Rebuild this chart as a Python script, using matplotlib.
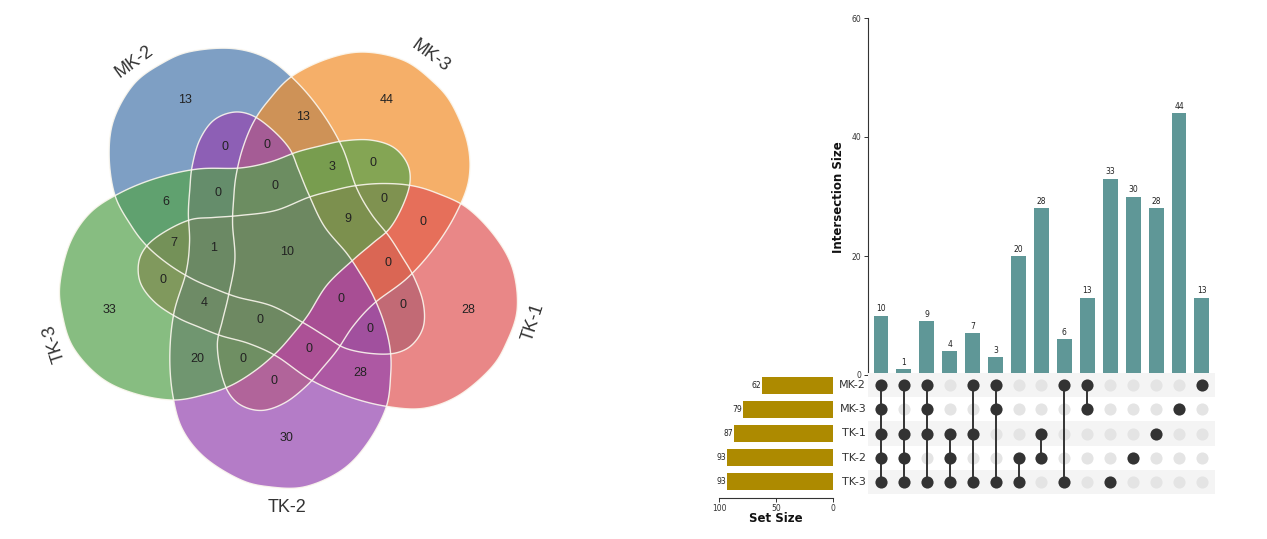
import numpy as np
import matplotlib
matplotlib.use('Agg')
from matplotlib import pyplot as plt
from matplotlib.patches import Polygon

# ---- data ----
sets = ['MK-2', 'MK-3', 'TK-1', 'TK-2', 'TK-3']
set_sizes = [62, 79, 87, 93, 93]

inter_sets = [
    ['MK-2', 'MK-3', 'TK-1', 'TK-2', 'TK-3'],
    ['MK-2', 'TK-1', 'TK-2', 'TK-3'],
    ['MK-2', 'MK-3', 'TK-1', 'TK-3'],
    ['TK-1', 'TK-2', 'TK-3'],
    ['MK-2', 'TK-1', 'TK-3'],
    ['MK-2', 'MK-3', 'TK-3'],
    ['TK-2', 'TK-3'],
    ['TK-1', 'TK-2'],
    ['MK-2', 'TK-3'],
    ['MK-2', 'MK-3'],
    ['TK-3'],
    ['TK-2'],
    ['TK-1'],
    ['MK-3'],
    ['MK-2'],
]
inter_sizes = [10, 1, 9, 4, 7, 3, 20, 28, 6, 13, 33, 30, 28, 44, 13]

W, H = 1267, 539
fig = plt.figure(figsize=(W / 100, H / 100), dpi=100)

# ---- venn (left half), axes in pixel units ----
ax_v = fig.add_axes([0, 0, 600 / W, 1])
ax_v.set_xlim(0, 600)
ax_v.set_ylim(H, 0)
ax_v.axis('off')

cx, cy = 285.0, 257.5
# outline of one set (TK-3), the other four are rotations of it
shape = [(410, 182), (407, 163), (393, 147), (370, 140), (343, 141), (320, 146),
         (297, 152), (270, 162), (240, 168), (198, 169), (157, 178), (120, 193),
         (90, 213), (70, 243), (60, 283), (62, 313), (73, 347), (100, 377),
         (133, 393), (173, 400), (207, 394), (232, 385), (256, 370), (277, 352),
         (293, 334), (308, 315), (327, 285), (353, 260), (373, 243), (390, 228),
         (403, 205)]

def smooth_closed(pts, n=16):
    P = np.asarray(pts, float)
    N = len(P)
    t = np.linspace(0, 1, n, endpoint=False)[:, None]
    out = []
    for i in range(N):
        p0, p1, p2, p3 = P[i - 1], P[i], P[(i + 1) % N], P[(i + 2) % N]
        out.append(0.5 * (2 * p1 + (-p0 + p2) * t + (2 * p0 - 5 * p1 + 4 * p2 - p3) * t ** 2
                          + (-p0 + 3 * p1 - 3 * p2 + p3) * t ** 3))
    return np.vstack(out)

def rotate(xy, deg, shift=(0, 0)):
    a = np.radians(deg)
    dx, dy = xy[:, 0] - cx, xy[:, 1] - cy
    return np.column_stack([cx + dx * np.cos(a) + dy * np.sin(a) + shift[0],
                            cy - dx * np.sin(a) + dy * np.cos(a) + shift[1]])

base = smooth_closed(shape)
rot = {'MK-2': 288, 'MK-3': 216, 'TK-1': 144, 'TK-2': 72, 'TK-3': 0}
shift = {'TK-1': (8, 0)}
colors = {'MK-2': '#4777ab', 'MK-3': '#f18d29', 'TK-1': '#e05454',
          'TK-2': '#9445b0', 'TK-3': '#54a24c'}
outlines = {s: rotate(base, rot[s], shift.get(s, (0, 0))) for s in sets}
for s in sets:
    ax_v.add_patch(Polygon(outlines[s], closed=True, facecolor=colors[s],
                           alpha=0.7, edgecolor='none', zorder=2))
for s in sets:
    ax_v.add_patch(Polygon(outlines[s], closed=True, facecolor='none',
                           edgecolor='#fbf7ee', lw=1.0, alpha=0.9, zorder=3))

letters = dict(zip('ABCDE', sets))
region_pos = {
    'A': (185, 100), 'B': (387, 100), 'C': (468, 310), 'D': (286, 438), 'E': (109, 310),
    'AB': (303, 117), 'AD': (225, 147), 'ABD': (267, 145), 'ABE': (332, 167), 'BE': (373, 163),
    'AE': (166, 202), 'ADE': (218, 193), 'ABDE': (275, 186), 'BCE': (384, 199), 'ABCE': (348, 219),
    'BC': (423, 222), 'ACE': (174, 243), 'ACDE': (214, 248), 'ABCDE': (287, 252), 'ABC': (388, 263),
    'CE': (163, 280), 'CDE': (204, 303), 'ABCD': (341, 299), 'AC': (403, 305), 'BCDE': (260, 320),
    'ACD': (370, 329), 'DE': (197, 359), 'BDE': (243, 359), 'BCD': (309, 349), 'CD': (360, 373),
    'BD': (274, 381),
}
lookup = {frozenset(c): v for c, v in zip(inter_sets, inter_sizes)}
for key, (x, y) in region_pos.items():
    n = lookup.get(frozenset(letters[k] for k in key), 0)
    ax_v.text(x, y, str(n), ha='center', va='center', fontsize=9,
              family='Liberation Sans', color='#222222', zorder=4)

set_label = {'MK-2': (134, 62, 36), 'MK-3': (430, 56, -36), 'TK-1': (533, 322, 72),
             'TK-2': (287, 507, 0), 'TK-3': (54, 343, 108)}
for s, (x, y, r) in set_label.items():
    ax_v.text(x, y, s, ha='center', va='center', rotation=r, fontsize=13,
              family='Liberation Sans', color='#333333')

# ---- upset plot ----
n_i = len(inter_sizes)
bar_col = '#5f9797'
dot_dark = '#333333'

def fa(l, t, r, b):
    return [l / W, 1 - b / H, (r - l) / W, (b - t) / H]

xlo, xhi = -0.567, 14.57
ax_b = fig.add_axes(fa(868, 18, 1215, 375))
x = np.arange(n_i)
ax_b.bar(x, inter_sizes, width=0.65, color=bar_col)
for xi, v in zip(x, inter_sizes):
    ax_b.text(xi, v + 0.4, str(v), ha='center', va='bottom', fontsize=5.5, color='#222222')
ax_b.set_xlim(xlo, xhi)
ax_b.set_ylim(0, 60)
ax_b.set_yticks([0, 20, 40, 60])
ax_b.tick_params(axis='y', labelsize=5.5, length=3, width=0.7, colors='#333333', pad=2)
ax_b.set_xticks([])
for sp in ['top', 'right', 'bottom']:
    ax_b.spines[sp].set_visible(False)
ax_b.spines['left'].set_linewidth(0.8)
ax_b.spines['left'].set_color('#333333')
fig.text(838 / W, 1 - 197 / H, 'Intersection Size', rotation=90, ha='center', va='center',
         fontsize=8.5, fontweight='bold', color='#111111')

ax_m = fig.add_axes(fa(868, 373, 1215, 494))
ax_m.set_xlim(xlo, xhi)
ax_m.set_ylim(len(sets) - 0.5, -0.5)
for r in range(len(sets)):
    if r % 2 == 0:
        ax_m.axhspan(r - 0.5, r + 0.5, color='#f4f4f4', lw=0, zorder=0)
ax_m.scatter(np.repeat(x, len(sets)), np.tile(np.arange(len(sets)), n_i), s=76,
             color='#e4e4e4', zorder=1, lw=0)
for xi, members in zip(x, inter_sets):
    rows = [sets.index(m) for m in members]
    if len(rows) > 1:
        ax_m.plot([xi, xi], [min(rows), max(rows)], color=dot_dark, lw=1.4, zorder=2)
    ax_m.scatter([xi] * len(rows), rows, s=76, color=dot_dark, zorder=3, lw=0)
ax_m.axis('off')
for r, s in enumerate(sets):
    ax_m.text(xlo - 0.08, r, s, ha='right', va='center', fontsize=8, color='#333333')

ax_s = fig.add_axes(fa(719, 373, 833, 494))
ax_s.barh(np.arange(len(sets)), set_sizes, height=0.7, color='#ad8a00')
for r, v in enumerate(set_sizes):
    ax_s.text(v + 1, r, str(v), ha='right', va='center', fontsize=5.5, color='#222222')
ax_s.set_xlim(100, 0)
ax_s.set_ylim(len(sets) - 0.5, -0.5)
ax_s.set_yticks([])
ax_s.set_xticks([100, 50, 0])
ax_s.tick_params(axis='x', labelsize=5.5, length=3, width=0.7, colors='#333333', pad=1)
for sp in ['top', 'right', 'left']:
    ax_s.spines[sp].set_visible(False)
ax_s.spines['bottom'].set_position(('outward', 3))
ax_s.spines['bottom'].set_linewidth(0.8)
ax_s.spines['bottom'].set_color('#333333')
fig.text(776 / W, 1 - 519 / H, 'Set Size', ha='center', va='center',
         fontsize=8.5, fontweight='bold', color='#111111')

fig.savefig('out.png', dpi=100)
